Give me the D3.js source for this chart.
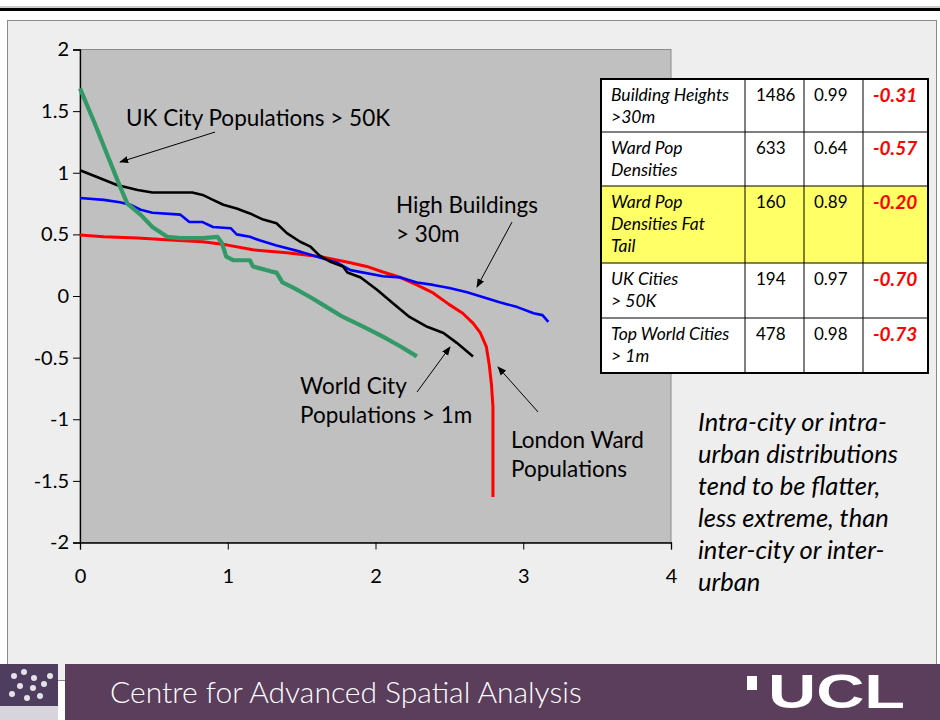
<!DOCTYPE html>
<html>
<head>
<meta charset="utf-8">
<script src="https://cdn.jsdelivr.net/npm/d3@7"></script>
<style>
  body { margin: 0; background: #fff; }
  svg { display: block; }
</style>
</head>
<body>
<svg id="chart" width="940" height="720"></svg>
<script>
// series, [log rank, log size]
var ukCities = [[0,1.685],[0.10,1.40],[0.20,1.10],[0.26,0.92],[0.32,0.75],[0.41,0.66],[0.49,0.56],[0.59,0.48],[0.68,0.47],[0.83,0.47],[0.93,0.48],[0.96,0.43],[0.99,0.32],[1.04,0.29],[1.15,0.29],[1.17,0.24],[1.29,0.20],[1.33,0.19],[1.37,0.11],[1.44,0.07],[1.56,-0.01],[1.67,-0.09],[1.78,-0.17],[1.92,-0.25],[2.05,-0.33],[2.17,-0.41],[2.28,-0.49]];

var worldCities = [[0,1.02],[0.115,0.965],[0.25,0.90],[0.39,0.86],[0.49,0.84],[0.76,0.84],[0.83,0.82],[0.90,0.78],[0.97,0.74],[1.06,0.71],[1.15,0.67],[1.24,0.62],[1.33,0.59],[1.40,0.51],[1.49,0.44],[1.56,0.40],[1.62,0.33],[1.69,0.28],[1.78,0.24],[1.81,0.19],[1.90,0.15],[2.01,0.05],[2.12,-0.06],[2.23,-0.17],[2.35,-0.25],[2.46,-0.30],[2.55,-0.38],[2.66,-0.49]];

var highBuildings = [[0,0.795],[0.16,0.78],[0.27,0.76],[0.34,0.74],[0.41,0.70],[0.49,0.675],[0.68,0.66],[0.74,0.60],[0.83,0.60],[0.90,0.56],[1.02,0.55],[1.06,0.50],[1.15,0.48],[1.22,0.45],[1.33,0.41],[1.49,0.36],[1.60,0.32],[1.74,0.27],[1.83,0.21],[2.05,0.16],[2.17,0.15],[2.28,0.11],[2.39,0.09],[2.50,0.065],[2.62,0.03],[2.73,-0.01],[2.84,-0.05],[2.96,-0.09],[3.07,-0.14],[3.13,-0.155],[3.17,-0.21]];

var londonWards = [[0,0.495],[0.16,0.48],[0.39,0.47],[0.61,0.455],[0.83,0.44],[0.99,0.415],[1.17,0.375],[1.40,0.35],[1.62,0.32],[1.83,0.27],[1.94,0.24],[2.05,0.195],[2.17,0.15],[2.28,0.09],[2.39,0.025],[2.50,-0.07],[2.59,-0.14],[2.66,-0.22],[2.71,-0.30],[2.75,-0.41],[2.77,-0.56],[2.785,-0.72],[2.795,-0.90],[2.795,-1.63]];

var xTicks = [0, 1, 2, 3, 4];
var yTicks = [2, 1.5, 1, 0.5, 0, -0.5, -1, -1.5, -2];

// table
var tableNames = [["Building Heights", ">30m"], ["Ward Pop", "Densities"], ["Ward Pop", "Densities Fat", "Tail"], ["UK Cities", "> 50K"], ["Top World Cities", "> 1m"]];
var tableN = ["1486", "633", "160", "194", "478"];
var tableR2 = ["0.99", "0.64", "0.89", "0.97", "0.98"];
var tableSlope = ["-0.31", "-0.57", "-0.20", "-0.70", "-0.73"];

var noteLines = ["Intra-city or intra-", "urban distributions", "tend to be flatter,", "less extreme, than", "inter-city or inter-", "urban"];

var svg = d3.select("#chart");
var font = "Lato, 'Open Sans', sans-serif";

// page frame
svg.append("line").attr("x1", 0).attr("x2", 940).attr("y1", 7).attr("y2", 7)
  .attr("stroke", "#999").attr("stroke-width", 1);
svg.append("rect").attr("x", 0).attr("y", 8).attr("width", 940).attr("height", 3).attr("fill", "#000");
svg.append("rect").attr("x", 7.5).attr("y", 20.5).attr("width", 929).attr("height", 660)
  .attr("fill", "#eeeeee").attr("stroke", "#8a8a8a").attr("stroke-width", 1);

var margin = {left: 80, top: 49.5, right: 671, bottom: 542.5};

var x = d3.scaleLinear().domain([0, 4]).range([margin.left, margin.right]);
var y = d3.scaleLinear().domain([-2, 2]).range([margin.bottom, margin.top]);

svg.append("rect")
  .attr("x", x(0)).attr("y", y(2))
  .attr("width", x(4) - x(0)).attr("height", y(-2) - y(2))
  .attr("fill", "#c0c0c0").attr("stroke", "#8c8c8c").attr("stroke-width", 1);

var xAxis = svg.append("g")
  .attr("transform", "translate(0," + y(-2) + ")")
  .call(d3.axisBottom(x).tickValues(xTicks).tickFormat(function(d) { return String(d); }).tickSize(7).tickPadding(19));

var yAxis = svg.append("g")
  .attr("transform", "translate(" + x(0) + ",0)")
  .call(d3.axisLeft(y).tickValues(yTicks).tickFormat(function(d) { return String(d); }).tickSize(7).tickPadding(4));

[xAxis, yAxis].forEach(function(g) {
  g.select(".domain").attr("stroke", "#000").attr("stroke-width", 1.3);
  g.selectAll(".tick line").attr("stroke", "#000");
  g.selectAll(".tick text").attr("font-family", font).attr("font-size", 20).attr("fill", "#000");
});

var line = d3.line().x(function(d) { return x(d[0]); }).y(function(d) { return y(d[1]); });

var series = [
  {data: londonWards, color: "#ff0000", width: 3},
  {data: highBuildings, color: "#0000ff", width: 2.6},
  {data: worldCities, color: "#000000", width: 2.6},
  {data: ukCities, color: "#339966", width: 4.2}
];

svg.selectAll(".series")
  .data(series)
  .enter().append("path")
    .attr("class", "series")
    .attr("d", function(d) { return line(d.data); })
    .attr("fill", "none")
    .attr("stroke", function(d) { return d.color; })
    .attr("stroke-width", function(d) { return d.width; })
    .attr("stroke-linejoin", "round");

// annotations, in data units
svg.append("defs").append("marker")
  .attr("id", "arrow").attr("viewBox", "0 0 10 10")
  .attr("refX", 9).attr("refY", 5)
  .attr("markerWidth", 9).attr("markerHeight", 9)
  .attr("markerUnits", "userSpaceOnUse")
  .attr("orient", "auto")
  .append("path").attr("d", "M0,1 L10,5 L0,9 z").attr("fill", "#000");

var labels = [
  {lines: ["UK City Populations > 50K"], x: 0.311, y: 1.444, from: [0.914, 1.33], to: [0.271, 1.087]},
  {lines: ["High Buildings", "> 30m"], x: 2.139, y: 0.738, from: [2.924, 0.60], to: [2.687, 0.073]},
  {lines: ["World City", "Populations > 1m"], x: 1.489, y: -0.730, from: [2.281, -0.779], to: [2.504, -0.414]},
  {lines: ["London Ward", "Populations"], x: 2.917, y: -1.168, from: [3.10, -0.941], to: [2.829, -0.576]}
];

labels.forEach(function(l) {
  var t = svg.append("text")
    .attr("font-family", font).attr("font-size", 22.5).attr("fill", "#000");
  l.lines.forEach(function(s, i) {
    t.append("tspan").attr("x", x(l.x)).attr("y", y(l.y) + i * 29).attr("dy", "0.35em").text(s);
  });
  svg.append("line")
    .attr("x1", x(l.from[0])).attr("y1", y(l.from[1]))
    .attr("x2", x(l.to[0])).attr("y2", y(l.to[1]))
    .attr("stroke", "#000").attr("stroke-width", 1)
    .attr("marker-end", "url(#arrow)");
});

// table
var colX = [601, 745, 804, 863, 928];
var rowY = [79, 132, 186, 263, 318, 373];

var table = svg.append("g");
table.selectAll(".rowbg")
  .data(tableNames)
  .enter().append("rect")
    .attr("x", colX[0]).attr("y", function(d, i) { return rowY[i]; })
    .attr("width", colX[4] - colX[0])
    .attr("height", function(d, i) { return rowY[i + 1] - rowY[i]; })
    .attr("fill", function(d, i) { return i == 2 ? "#ffff66" : "#fff"; });

colX.slice(1, 4).forEach(function(cx) {
  table.append("line").attr("x1", cx).attr("x2", cx).attr("y1", rowY[0]).attr("y2", rowY[5])
    .attr("stroke", "#000").attr("stroke-width", 1);
});
rowY.slice(1, 5).forEach(function(ry) {
  table.append("line").attr("x1", colX[0]).attr("x2", colX[4]).attr("y1", ry).attr("y2", ry)
    .attr("stroke", "#000").attr("stroke-width", 1);
});
table.append("rect").attr("x", colX[0]).attr("y", rowY[0])
  .attr("width", colX[4] - colX[0]).attr("height", rowY[5] - rowY[0])
  .attr("fill", "none").attr("stroke", "#000").attr("stroke-width", 2);

tableNames.forEach(function(name, i) {
  var t = table.append("text").attr("font-family", font).attr("font-size", 17.5)
    .attr("font-style", "italic").attr("fill", "#000");
  name.forEach(function(s, j) {
    t.append("tspan").attr("x", colX[0] + 10).attr("y", rowY[i] + 22 + j * 22).text(s);
  });
  table.append("text").attr("x", colX[1] + 11).attr("y", rowY[i] + 22)
    .attr("font-family", font).attr("font-size", 17).attr("fill", "#000").text(tableN[i]);
  table.append("text").attr("x", colX[2] + 10).attr("y", rowY[i] + 22)
    .attr("font-family", font).attr("font-size", 17).attr("fill", "#000").text(tableR2[i]);
  table.append("text").attr("x", colX[3] + 10).attr("y", rowY[i] + 23)
    .attr("font-family", font).attr("font-size", 19).attr("font-weight", "bold")
    .attr("font-style", "italic").attr("fill", "#ff0000").text(tableSlope[i]);
});

// side note
var note = svg.append("text").attr("font-family", font).attr("font-size", 25.5)
  .attr("font-style", "italic").attr("fill", "#000");
noteLines.forEach(function(s, i) {
  note.append("tspan").attr("x", 698).attr("y", 431 + i * 32).text(s);
});

// footer banner
svg.append("rect").attr("x", 65).attr("y", 664).attr("width", 875).attr("height", 56).attr("fill", "#5a3e5c");
svg.append("rect").attr("x", 0).attr("y", 664).attr("width", 58).attr("height", 56).attr("fill", "#4e3d5e");
svg.append("rect").attr("x", 0).attr("y", 706).attr("width", 58).attr("height", 14).attr("fill", "#d8d4dc");
var dots = [[14,676],[24,672],[34,678],[20,686],[33,688],[44,684],[12,694],[27,698],[40,696],[50,676]];
dots.forEach(function(p) {
  svg.append("circle").attr("cx", p[0]).attr("cy", p[1]).attr("r", 3).attr("fill", "#fff").attr("opacity", 0.85);
});
svg.append("text").attr("x", 110).attr("y", 703)
  .attr("font-family", font).attr("font-size", 30).attr("font-weight", 300)
  .attr("fill", "#fff").text("Centre for Advanced Spatial Analysis");
svg.append("rect").attr("x", 747).attr("y", 676).attr("width", 10).attr("height", 14).attr("fill", "#fff");
svg.append("text").attr("x", 768).attr("y", 708)
  .attr("font-family", "'Liberation Sans', Arial, sans-serif").attr("font-size", 48).attr("font-weight", "bold")
  .attr("textLength", 137).attr("lengthAdjust", "spacingAndGlyphs")
  .attr("fill", "#fff").text("UCL");
</script>
</body>
</html>
